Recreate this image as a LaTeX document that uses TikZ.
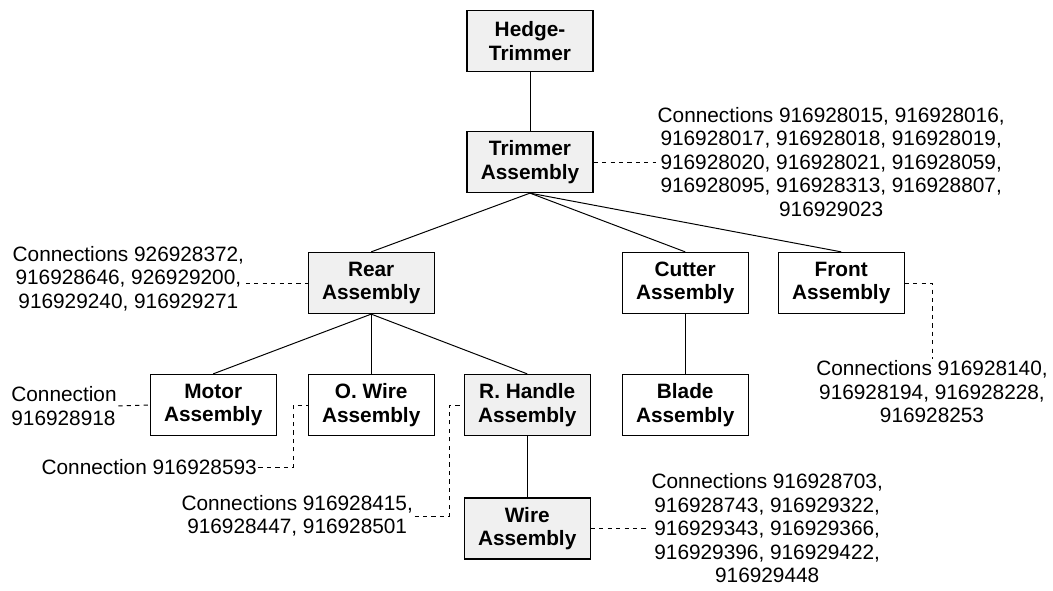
\documentclass[tikz,border=0pt]{standalone}
\usepackage{fontspec}
\setmainfont{Liberation Sans}
\usetikzlibrary{positioning}
\definecolor{grisfondo}{HTML}{F0F0F0}
\newcommand{\letra}{\fontsize{14.8}{16.7}\selectfont}
\tikzset{
  caja/.style={rectangle, draw=black, line width=0.9pt, fill=white, font=\letra\bfseries,
               align=center, minimum width=3.15cm, minimum height=1.525cm, inner sep=2pt},
  cajag/.style={caja, fill=grisfondo},
  conex/.style={font=\letra, align=center, inner sep=1pt},
  linea/.style={line width=0.7pt},
  guion/.style={line width=0.7pt, dashed}
}
\begin{document}
\begin{tikzpicture}
  \useasboundingbox (0,0) rectangle (26.325,14.75);
  % cajas del arbol
  \node (hedge) [cajag] at (13.25,13.725) {Hedge-\\Trimmer};
  \node (trimmer) [cajag] at (13.25,10.7) {Trimmer\\Assembly};
  \node (rear) [cajag] at (9.28,7.675) {Rear\\Assembly};
  \node (cutter) [caja] at (17.13,7.675) {Cutter\\Assembly};
  \node (front) [caja] at (21.03,7.675) {Front\\Assembly};
  \node (motor) [caja] at (5.33,4.625) {Motor\\Assembly};
  \node (owire) [caja] at (9.28,4.625) {O. Wire\\Assembly};
  \node (rhandle) [cajag] at (13.18,4.625) {R. Handle\\Assembly};
  \node (blade) [caja] at (17.13,4.625) {Blade\\Assembly};
  \node (wire) [cajag] at (13.18,1.54) {Wire\\Assembly};
  % textos de conexiones
  \node (ctrimmer) [conex] at (20.78,10.7) {Connections 916928015, 916928016,\\916928017, 916928018, 916928019,\\916928020, 916928021, 916928059,\\916928095, 916928313, 916928807,\\916929023};
  \node (crear) [conex] at (3.21,7.79) {Connections 926928372,\\916928646, 926929200,\\916929240, 916929271};
  \node (cfront) [conex] at (23.3,4.95) {Connections 916928140,\\916928194, 916928228,\\916928253};
  \node (cmotor) [conex, align=left] at (1.6,4.6) {Connection\\916928918};
  \node (cowire) [conex] at (3.73,3.075) {Connection 916928593};
  \node (crhandle) [conex] at (7.43,1.85) {Connections 916928415,\\916928447, 916928501};
  \node (cwire) [conex] at (19.18,1.54) {Connections 916928703,\\916928743, 916929322,\\916929343, 916929366,\\916929396, 916929422,\\916929448};
  % lineas del arbol
  \draw [linea] (hedge) -- (trimmer);
  \draw [linea] (trimmer.south) -- (rear.north);
  \draw [linea] (trimmer.south) -- (cutter.north);
  \draw [linea] (trimmer.south) -- (front.north);
  \draw [linea] (rear.south) -- (motor.north);
  \draw [linea] (rear.south) -- (owire.north);
  \draw [linea] (rear.south) -- (rhandle.north);
  \draw [linea] (cutter) -- (blade);
  \draw [linea] (rhandle) -- (wire);
  % guiones a las conexiones
  \draw [guion] (trimmer.east) -- (ctrimmer.west);
  \draw [guion] (crear.east |- rear.west) -- (rear.west);
  \draw [guion] (front.east) -| (cfront.north);
  \draw [guion] (cmotor.east) -- (motor.west);
  \draw [guion] (cowire.east) -| ([xshift=-0.35cm]owire.west) -- (owire.west);
  \draw [guion] (crhandle.east) -| ([xshift=-0.35cm]rhandle.west) -- (rhandle.west);
  \draw [guion] (wire.east) -- (cwire.west);
\end{tikzpicture}
\end{document}
